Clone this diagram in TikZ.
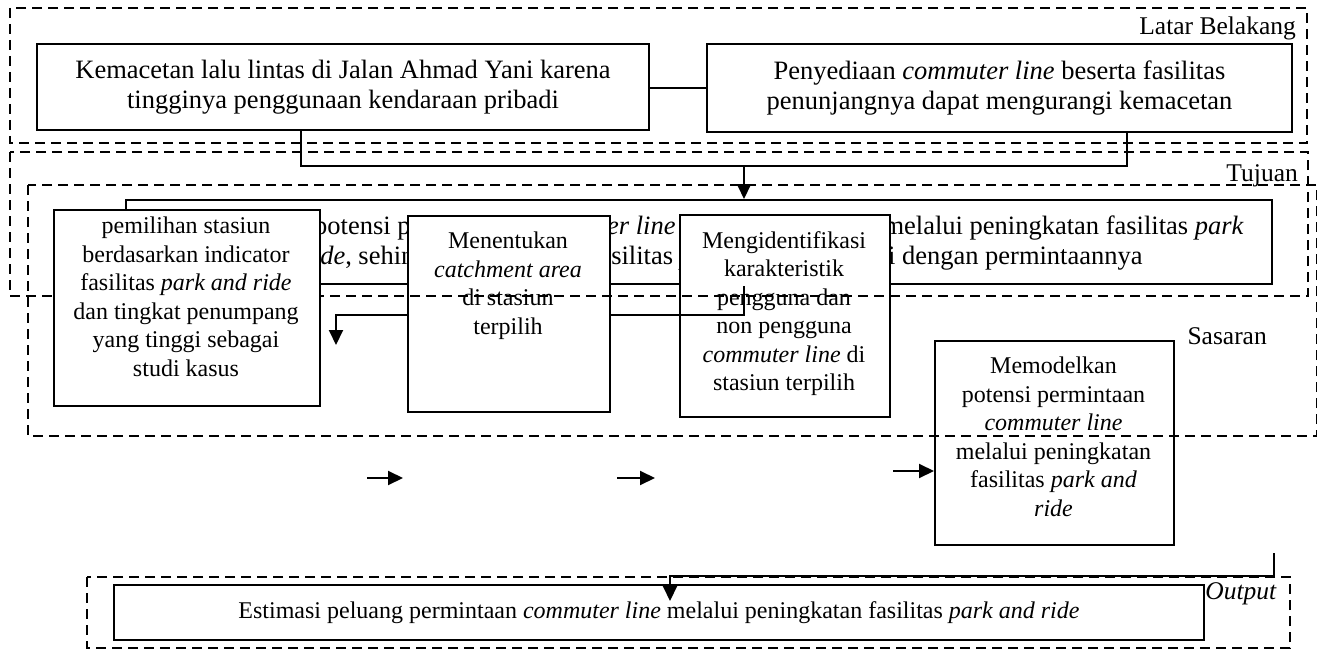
\documentclass[tikz,border=0pt]{standalone}
\usepackage{fontspec}
\setmainfont{Liberation Serif}
\usetikzlibrary{arrows.meta,calc}
\newcommand{\hurufbesar}{\fontsize{26.5}{30.5}\selectfont}
\newcommand{\hurufkecil}{\fontsize{24}{28.5}\selectfont}
\newcommand{\hurufjudul}{\fontsize{25.5}{29}\selectfont}
\tikzset{
  kotak/.style={draw, line width=2pt, fill=white, inner sep=0pt, anchor=north west},
  wilayah/.style={line width=2pt, dash pattern=on 10pt off 6pt},
  isiatas/.style={font=\hurufbesar, align=center, inner sep=0pt},
  isibawah/.style={font=\hurufkecil, align=center, inner sep=0pt, anchor=north},
  judul/.style={font=\hurufjudul, inner sep=0pt, anchor=base east},
  garis/.style={line width=2pt},
  panah/.style={line width=2pt, -{Triangle[length=15pt, width=14pt]}},
}

\begin{document}
\begin{tikzpicture}[x=1pt, y=-1pt]
  \useasboundingbox (0,0) rectangle (1317,650);

  % Latar Belakang
  \draw[wilayah] (10,8) rectangle (1307,143);
  \node[judul] (lblatar) at (1296,35) {Latar Belakang};
  \node[kotak, isiatas, minimum width=612pt, minimum height=86pt] (macet) at (36,43)
    {Kemacetan lalu lintas di Jalan Ahmad Yani karena\\tingginya penggunaan kendaraan pribadi};
  \node[kotak, isiatas, minimum width=585pt, minimum height=88pt] (sedia) at (706,43)
    {Penyediaan \textit{commuter line} beserta fasilitas\\penunjangnya dapat mengurangi kemacetan};
  \draw[line width=1.2pt] (sedia.west -| macet.east) -- (sedia.west);

  \coordinate (turunA) at (301,166);
  \coordinate (naikB) at (1127,166);
  \coordinate (cabang) at (744,166);
  \draw[garis] (turunA |- macet.south) -- (turunA) -- (naikB) -- (naikB |- sedia.south);

  % Tujuan
  \node[kotak, minimum width=1146pt, minimum height=84pt] (tujuan) at (125,199) {};
  \node[isiatas, anchor=base west] (tjbaris1) at (314,234)
    {potensi permintaan \textit{commuter line}\hspace{208pt}melalui peningkatan fasilitas \textit{park}};
  \node[isiatas, anchor=base west] (tjbaris2) at (256,264)
    {\textit{and ride}, sehingga\hspace{138pt}fasilitas \textit{park and ride} sesuai dengan permintaannya};
  \draw[panah] (cabang) -- (cabang |- tujuan.north);

  % Sasaran
  \node[kotak, minimum width=210pt, minimum height=202pt] (identifikasi) at (679,214) {};
  \node[isibawah] (identteks) at (784,231)
    {Mengidentifikasi\\karakteristik\\pengguna dan\\non pengguna\\\textit{commuter line} di\\stasiun terpilih};

  \coordinate (tjkiri) at (744,286);
  \coordinate (belok) at (336,315);
  \coordinate (pilihatas) at (336,345);
  \draw[panah] (tjkiri) |- (belok) -- (pilihatas);

  \node[kotak, minimum width=202pt, minimum height=196pt] (catchment) at (407,215) {};
  \node[isibawah] (catchteks) at (508,232)
    {Menentukan\\\textit{catchment area}\\di stasiun\\terpilih};

  \draw[wilayah] (10,152) rectangle (1308,296);
  \node[judul] (lbtujuan) at (1298,181) {Tujuan};

  \node[kotak, minimum width=266pt, minimum height=196pt] (pilih) at (53,209) {};
  \node[isibawah] (pilihteks) at (186,217)
    {pemilihan stasiun\\berdasarkan indicator\\fasilitas \textit{park and ride}\\dan tingkat penumpang\\yang tinggi sebagai\\studi kasus};

  \node[kotak, minimum width=239pt, minimum height=204pt] (modelkan) at (934,340) {};
  \node[isibawah] (modelteks) at (1053.5,357)
    {Memodelkan\\potensi permintaan\\\textit{commuter line}\\melalui peningkatan\\fasilitas \textit{park and}\\\textit{ride}};

  \draw[wilayah] (28,185) rectangle (1317,436);
  \node[judul] (lbsasaran) at (1267,344) {Sasaran};

  \coordinate (p1a) at (367,478);
  \coordinate (p1b) at (403,478);
  \coordinate (p2a) at (617,478);
  \coordinate (p2b) at (655,478);
  \coordinate (p3a) at (893,471);
  \draw[panah] (p1a) -- (p1b);
  \draw[panah] (p2a) -- (p2b);
  \draw[panah] (p3a) -- (p3a -| modelkan.west);

  % Output
  \draw[wilayah] (87,577) rectangle (1290,648);
  \node[kotak, font=\hurufkecil, minimum width=1090pt, minimum height=55pt] (estimasi) at (113,584)
    {Estimasi peluang permintaan \textit{commuter line} melalui peningkatan fasilitas \textit{park and ride}};
  \node[judul] (lboutput) at (1277,599) {\textit{Output}};

  \coordinate (modbawah) at (1274,553);
  \coordinate (belok2) at (670,576);
  \coordinate (ujungout) at (670,601);
  \draw[panah] (modbawah) |- (belok2) -- (ujungout);
\end{tikzpicture}
\end{document}
